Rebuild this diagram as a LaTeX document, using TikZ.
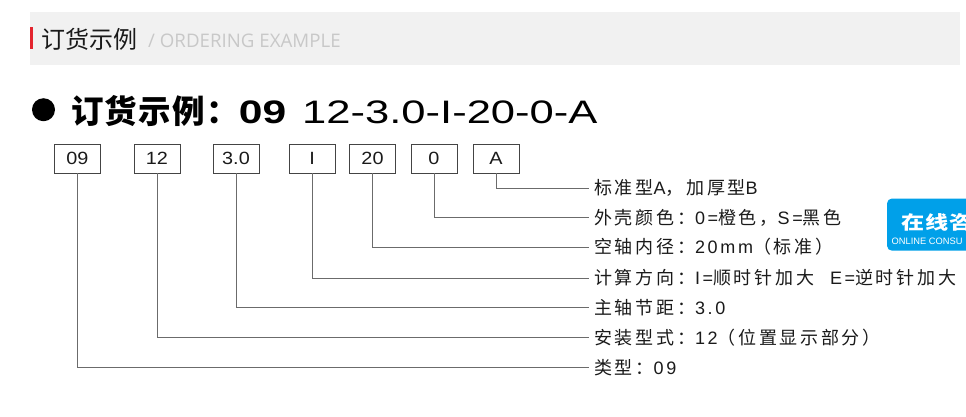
\documentclass[tikz,border=0pt]{standalone}
\usepackage{fontspec}
\usepackage{graphicx}
\setmainfont{Liberation Sans}
\newfontfamily\zhfont{Noto Sans CJK SC}
\newfontfamily\zhsp{Noto Sans CJK SC}[LetterSpace=15]
\newfontfamily\zhbsp{Noto Sans CJK SC}[LetterSpace=4]
\newfontfamily\latsp{Liberation Sans}[LetterSpace=15]
\newfontfamily\opensans{Open Sans}
\newcommand\zh[1]{{\zhsp #1}}
\definecolor{hdrgray}{HTML}{F1F1F1}
\definecolor{hdrred}{HTML}{E3242E}
\definecolor{subgray}{HTML}{C8C8C8}
\definecolor{boxc}{HTML}{444444}
\definecolor{connc}{HTML}{6B6B6B}
\definecolor{txt}{HTML}{1A1A1A}
\definecolor{btnblue}{RGB}{0,160,233}
\tikzset{
  codebox/.style={draw=boxc, line width=0.8pt, minimum width=46pt, minimum height=29pt,
    inner sep=0pt, text=txt, font=\fontsize{17.7}{19}\selectfont},
  lab/.style={anchor=west, inner sep=0pt, text height=13.4pt, text depth=0pt, text=txt,
    font=\fontsize{18}{20}\selectfont\latsp},
  conn/.style={draw=connc, line width=0.8pt},
  plain/.style={anchor=base west, inner sep=0pt}
}
\begin{document}
\begin{tikzpicture}[x=1pt,y=-1pt]
\useasboundingbox (0,0) rectangle (966,416);
\fill[white] (0,0) rectangle (966,416);
% header band
\fill[hdrgray] (30,12) rectangle (960,65);
\fill[hdrred] (30,27) rectangle (33,49);
\node[plain, text=txt, font={\fontsize{24}{26}\selectfont\zhfont}] (h1) at (41,48) {订货示例};
\node[plain, text=subgray, font={\fontsize{18.7}{20}\selectfont\opensans}] (h2) at (148,47) {/ ORDERING EXAMPLE};
% title
\node[circle, fill=black, minimum size=23pt, inner sep=0pt] (bul) at (43.5,109.7) {};
\node[plain, text=black] (t1) at (71,123.3)
  {{\fontsize{32.5}{34}\selectfont\zhbsp\bfseries 订货示例：}\scalebox{1.31}[1]{\fontsize{32.5}{34}\selectfont\bfseries 09}};
\node[plain, text=black] (t2) at (302,123.3)
  {\scalebox{1.34}[1]{\fontsize{32.5}{34}\selectfont 12-3.0-I-20-0-A}};
% code boxes
\node[codebox] (b09) at (77.5,158.5) {\scalebox{1.12}[1]{09}};
\node[codebox] (b12) at (157,158.5) {\scalebox{1.12}[1]{12}};
\node[codebox] (b30) at (236,158.5) {\scalebox{1.12}[1]{3.0}};
\node[codebox] (bI) at (312,158.5) {\scalebox{1.12}[1]{I}};
\node[codebox] (b20) at (372.5,158.5) {\scalebox{1.12}[1]{20}};
\node[codebox] (b0) at (434,158.5) {\scalebox{1.12}[1]{0}};
\node[codebox] (bA) at (496,158.5) {\scalebox{1.12}[1]{A}};
% labels
\node[lab] (l1) at (594,188) {\zh{标准型}A\zh{，加厚型}B};
\node[lab] (l2) at (594,217.5) {\zh{外壳颜色：}0=\zh{橙色，}S=\zh{黑色}};
\node[lab] (l3) at (594,247) {\zh{空轴内径：}20mm\zh{（标准）}};
\node[lab] (l4) at (594,278) {\zh{计算方向：}I=\zh{顺时针加大}\hspace{16pt}E=\zh{逆时针加大}};
\node[lab] (l5) at (594,307.5) {\zh{主轴节距：}3.0};
\node[lab] (l6) at (594,337.5) {\zh{安装型式：}12\zh{（位置显示部分）}};
\node[lab] (l7) at (594,367.5) {\zh{类型：}09};
% connectors
\draw[conn] (bA.south) |- ([xshift=-5pt]l1.west);
\draw[conn] (b0.south) |- ([xshift=-5pt]l2.west);
\draw[conn] (b20.south) |- ([xshift=-5pt]l3.west);
\draw[conn] (bI.south) |- ([xshift=-5pt]l4.west);
\draw[conn] (b30.south) |- ([xshift=-5pt]l5.west);
\draw[conn] (b12.south) |- ([xshift=-5pt]l6.west);
\draw[conn] (b09.south) |- ([xshift=-5pt]l7.west);
% floating consult button (cut by the right edge)
\begin{scope}
\clip (0,0) rectangle (966,416);
\fill[btnblue, rounded corners=5pt] (887,198.5) rectangle (1000,250.7);
\node[plain, text=white] (bt1) at (901,229)
  {\scalebox{1.25}[1]{\fontsize{18.5}{20}\selectfont\zhbsp\bfseries 在线咨}};
\node[plain, text=white, font=\fontsize{9.3}{10}\selectfont] (bt2) at (891.5,244.5) {ONLINE CONSU};
\end{scope}
\end{tikzpicture}
\end{document}
